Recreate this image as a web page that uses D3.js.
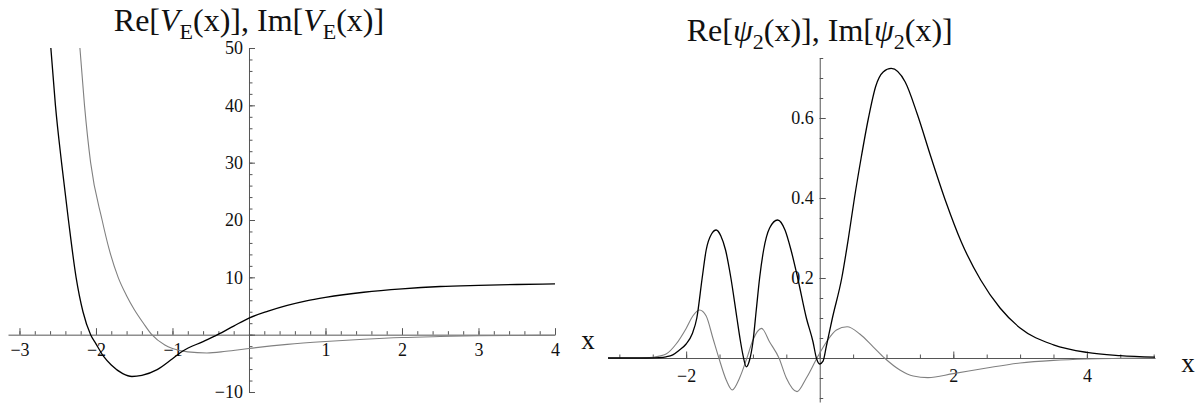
<!DOCTYPE html>
<html>
<head>
<meta charset="utf-8">
<script src="https://cdn.jsdelivr.net/npm/d3@7"></script>
<style>
  html, body { margin: 0; padding: 0; background: #fff; }
  svg { display: block; }
  svg text { font-family: "Liberation Serif", "Times New Roman", serif; }
</style>
</head>
<body>
<svg id="chart" width="1198" height="404"></svg>
<script>
// left panel: Re / Im of V_E(x) as [x, value]
const reV = [
  [-2.59, 50], [-2.53, 40], [-2.45, 30], [-2.36, 20], [-2.26, 10], [-2.17, 4],
  [-2.07, 0], [-2.0, -1.6], [-1.9, -3.8], [-1.8, -5.3], [-1.65, -6.8], [-1.53, -7.3],
  [-1.4, -7.1], [-1.2, -6.1], [-1.0, -4.2], [-0.87, -2.9], [-0.6, -1.2], [-0.41, 0],
  [-0.2, 1.5], [0, 2.9], [0.25, 4.1], [0.5, 5.1], [0.75, 5.9], [1, 6.5], [1.5, 7.4],
  [2, 8.0], [2.5, 8.4], [3, 8.6], [3.5, 8.75], [4, 8.85]
];
const imV = [
  [-2.21, 50], [-2.15, 40], [-2.07, 30], [-1.92, 20], [-1.83, 15], [-1.71, 10],
  [-1.6, 6.8], [-1.5, 4.4], [-1.38, 2.0], [-1.27, 0], [-1.1, -1.8], [-1.0, -2.4],
  [-0.8, -3.0], [-0.55, -3.2], [-0.3, -2.9], [0, -2.4], [0.5, -1.7], [1, -1.2],
  [1.5, -0.8], [2, -0.5], [2.5, -0.33], [3, -0.2], [3.5, -0.14], [4, -0.1]
];

// right panel: Re / Im of psi_2(x)
const rePsi = [
  [-3.17, 0], [-2.6, 0], [-2.4, 0.001], [-2.3, 0.003], [-2.2, 0.008], [-2.1, 0.02],
  [-2.0, 0.035], [-1.91, 0.06], [-1.84, 0.1], [-1.76, 0.2], [-1.7, 0.27], [-1.62, 0.31],
  [-1.55, 0.32], [-1.48, 0.305], [-1.41, 0.27], [-1.33, 0.2], [-1.24, 0.1], [-1.19, 0.045],
  [-1.15, 0.008], [-1.1, -0.022], [-1.05, -0.005], [-1.0, 0.04], [-0.95, 0.12], [-0.9, 0.2],
  [-0.84, 0.27], [-0.75, 0.325], [-0.63, 0.345], [-0.52, 0.32], [-0.43, 0.27], [-0.33, 0.2],
  [-0.2, 0.1], [-0.1, 0.04], [-0.05, 0.0], [0.0, -0.015], [0.05, -0.008], [0.1, 0.03],
  [0.19, 0.1], [0.33, 0.2], [0.43, 0.3], [0.52, 0.4], [0.62, 0.5], [0.73, 0.6], [0.84, 0.68],
  [0.95, 0.715], [1.07, 0.724], [1.28, 0.69], [1.46, 0.61], [1.67, 0.5], [1.89, 0.39],
  [2.12, 0.29], [2.41, 0.195], [2.7, 0.125], [3.0, 0.075], [3.5, 0.033], [4.0, 0.014],
  [4.5, 0.006], [5.02, 0.002]
];
const imPsi = [
  [-3.17, 0], [-2.7, 0], [-2.5, 0.002], [-2.3, 0.01], [-2.15, 0.035], [-2.0, 0.074],
  [-1.9, 0.105], [-1.8, 0.12], [-1.7, 0.105], [-1.6, 0.05], [-1.51, 0], [-1.4, -0.055],
  [-1.31, -0.08], [-1.2, -0.05], [-1.09, 0], [-1.0, 0.045], [-0.87, 0.074], [-0.75, 0.04],
  [-0.61, 0], [-0.5, -0.05], [-0.34, -0.084], [-0.2, -0.05], [-0.04, 0], [0.1, 0.04],
  [0.25, 0.07], [0.41, 0.078], [0.6, 0.06], [0.8, 0.028], [0.97, 0], [1.2, -0.03],
  [1.4, -0.045], [1.62, -0.049], [2.0, -0.039], [2.5, -0.025], [3.0, -0.0125],
  [3.5, -0.006], [4.0, -0.0025], [4.5, -0.001], [5.02, 0]
];

// tick labels
const leftXLabels = [-3, -2, -1, 1, 2, 3, 4];
const leftYLabels = [-10, 10, 20, 30, 40, 50];
const rightXLabels = [-2, 2, 4];
const rightYLabels = [0.2, 0.4, 0.6];

const AXIS_COLOR = "#555";
const SERIF = '"Liberation Serif", "Times New Roman", serif';
const minus = (s) => String(s).replace("-", "\u2212");

const svg = d3.select("#chart");

// d3 axes put sans-serif 10px on their group; drop that so the serif css applies
const plain = (g) => g.attr("font-family", null).attr("font-size", null);

function drawPanel(cfg) {
  const { x, y, id } = cfg;
  const x0 = x(0);
  const y0 = y(0);

  svg.append("clipPath").attr("id", id).append("rect")
    .attr("x", x.range()[0]).attr("y", y.range()[1])
    .attr("width", x.range()[1] - x.range()[0])
    .attr("height", y.range()[0] - y.range()[1]);

  // x axis: line + ticks pointing up
  const gx = svg.append("g").attr("transform", `translate(0,${y0})`);
  gx.append("g")
    .call(d3.axisTop(x).tickValues(cfg.xMinor).tickSize(3.5).tickSizeOuter(0).tickFormat(""));
  gx.append("g")
    .call(d3.axisTop(x).tickValues(cfg.xMajor).tickSize(6.5).tickSizeOuter(0).tickFormat(""))
    .call((g) => g.select(".domain").remove());
  gx.append("g")
    .call(d3.axisBottom(x).tickValues(cfg.xLabels).tickSize(0).tickPadding(cfg.xPad).tickFormat(minus))
    .call((g) => g.select(".domain").remove())
    .call(plain);

  // y axis: line + ticks pointing right
  const gy = svg.append("g").attr("transform", `translate(${x0},0)`);
  gy.append("g")
    .call(d3.axisRight(y).tickValues(cfg.yMinor).tickSize(3.5).tickSizeOuter(0).tickFormat(""));
  gy.append("g")
    .call(d3.axisRight(y).tickValues(cfg.yMajor).tickSize(6).tickSizeOuter(0).tickFormat(""))
    .call((g) => g.select(".domain").remove());
  gy.append("g")
    .call(d3.axisLeft(y).tickValues(cfg.yLabels).tickSize(0).tickPadding(6).tickFormat(cfg.yFormat))
    .call((g) => g.select(".domain").remove())
    .call(plain);

  svg.selectAll(".domain, .tick line").attr("stroke", AXIS_COLOR).attr("stroke-width", 1);
  svg.selectAll(".tick text")
    .style("font-family", SERIF)
    .style("font-size", "18px")
    .attr("fill", "#111");

  // curves
  const line = d3.line()
    .x((d) => x(d[0]))
    .y((d) => y(d[1]))
    .curve(d3.curveMonotoneX);

  const plot = svg.append("g").attr("clip-path", `url(#${id})`);
  plot.append("path").datum(cfg.im)
    .attr("fill", "none").attr("stroke", "#808080").attr("stroke-width", 1.1)
    .attr("d", line);
  plot.append("path").datum(cfg.re)
    .attr("fill", "none").attr("stroke", "#000").attr("stroke-width", 1.3)
    .attr("d", line);

  // axis label x
  svg.append("text")
    .attr("x", x.range()[1] + 33).attr("y", y0 + 14)
    .attr("text-anchor", "middle")
    .style("font-family", SERIF).style("font-size", "27px")
    .attr("fill", "#111")
    .text("x");

  // title (y axis label)
  const t = svg.append("text")
    .attr("x", x0).attr("y", y.range()[1] - 17)
    .attr("text-anchor", "middle")
    .style("font-family", SERIF).style("font-size", cfg.titleSize + "px")
    .attr("fill", "#111");
  cfg.title.forEach((part) => {
    const s = t.append("tspan").text(part.text);
    if (part.italic) s.attr("font-style", "italic");
    if (part.sub) s.style("font-size", Math.round(cfg.titleSize * 0.7) + "px").attr("dy", 8);
    if (part.after) s.attr("dy", -8);
  });
}

const xL = d3.scaleLinear().domain([-3.15, 4]).range([8, 555]);
const yL = d3.scaleLinear().domain([-10, 50]).range([392, 48]);

drawPanel({
  id: "clipL",
  x: xL, y: yL,
  re: reV, im: imV,
  xMajor: d3.range(-3, 5, 1),
  xMinor: d3.range(-3, 4.01, 0.2).map((v) => +v.toFixed(2)),
  xLabels: leftXLabels, xPad: 9,
  yMajor: d3.range(-10, 51, 10),
  yMinor: d3.range(-10, 51, 2),
  yLabels: leftYLabels,
  yFormat: minus,
  titleSize: 32,
  title: [
    { text: "Re[" }, { text: "V", italic: true }, { text: "E", sub: true },
    { text: "(x)], Im[", after: true }, { text: "V", italic: true }, { text: "E", sub: true },
    { text: "(x)]", after: true }
  ]
});

const xR = d3.scaleLinear().domain([-3.17, 5.02]).range([608, 1155]);
const yR = d3.scaleLinear().domain([-0.11, 0.75]).range([402, 58]);

drawPanel({
  id: "clipR",
  x: xR, y: yR,
  re: rePsi, im: imPsi,
  xMajor: [-2, 0, 2, 4],
  xMinor: d3.range(-3, 5.01, 0.5).map((v) => +v.toFixed(2)),
  xLabels: rightXLabels, xPad: 11,
  yMajor: [0.2, 0.4, 0.6],
  yMinor: d3.range(-0.1, 0.751, 0.05).map((v) => +v.toFixed(2)),
  yLabels: rightYLabels,
  yFormat: (d) => d.toFixed(1),
  titleSize: 32,
  title: [
    { text: "Re[" }, { text: "\u03C8", italic: true }, { text: "2", sub: true },
    { text: "(x)], Im[", after: true }, { text: "\u03C8", italic: true }, { text: "2", sub: true },
    { text: "(x)]", after: true }
  ]
});
</script>
</body>
</html>
